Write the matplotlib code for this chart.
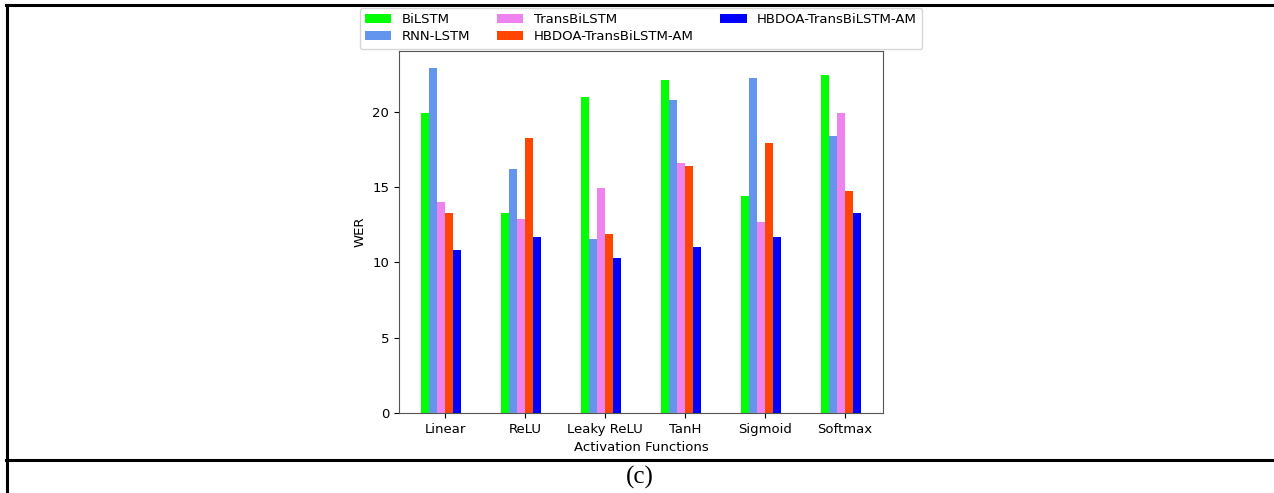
import matplotlib.pyplot as plt
import numpy as np
from matplotlib.lines import Line2D

categorias = ["Linear", "ReLU", "Leaky ReLU", "TanH", "Sigmoid", "Softmax"]
series = ["BiLSTM", "RNN-LSTM", "TransBiLSTM", "HBDOA-TransBiLSTM-AM", "HBDOA-TransBiLSTM-AM"]
cores = ["#00ff00", "cornflowerblue", "violet", "orangered", "blue"]

bilstm = [19.9, 13.3, 20.95, 22.1, 14.4, 22.4]
rnn_lstm = [22.9, 16.2, 11.55, 20.8, 22.2, 18.4]
trans_bilstm = [14.0, 12.85, 14.95, 16.6, 12.7, 19.9]
hbdoa_vermelho = [13.3, 18.25, 11.9, 16.4, 17.95, 14.75]
hbdoa_azul = [10.8, 11.7, 10.3, 11.0, 11.7, 13.3]
valores = [bilstm, rnn_lstm, trans_bilstm, hbdoa_vermelho, hbdoa_azul]

tamanho = 9.5

fig = plt.figure(figsize=(12.74, 4.93), dpi=100)
ax = fig.add_axes([0.3132, 0.1623, 0.3799, 0.7349])

x = np.arange(len(categorias))
largura = 0.1
for i, (rotulo, cor, dados) in enumerate(zip(series, cores, valores)):
    ax.bar(x + (i - 2.5) * largura, dados, largura, color=cor, label=rotulo)

ax.set_xticks(x)
ax.set_xticklabels(categorias, fontsize=tamanho)
ax.tick_params(axis="y", labelsize=tamanho)
ax.set_xlabel("Activation Functions", fontsize=tamanho)
ax.set_ylabel("WER", fontsize=tamanho)
for spine in ax.spines.values():
    spine.set_color("#555555")

ax.legend(loc="lower center", bbox_to_anchor=(0.5, 1.0), ncol=3, fontsize=tamanho,
          borderaxespad=0.15, labelspacing=0.3)

# bordas da tabela
fig.add_artist(Line2D([6 / 1274, 1], [1 - 5 / 493, 1 - 5 / 493], color="black", lw=2.2))
fig.add_artist(Line2D([7 / 1274, 7 / 1274], [0, 1 - 5 / 493], color="black", lw=2.2))
fig.add_artist(Line2D([6 / 1274, 1], [1 - 460 / 493, 1 - 460 / 493], color="black", lw=2.2))

fig.text(640 / 1274, 1 - 477 / 493, "(c)", ha="center", va="center",
         fontsize=18, family="Liberation Serif")

fig.savefig("out.png", dpi=100)
plt.close(fig)
